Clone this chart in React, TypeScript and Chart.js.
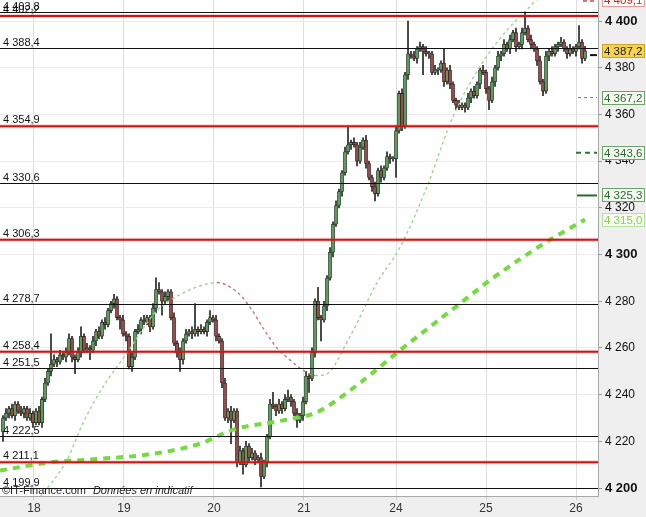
import { useEffect, useRef } from "react";
import { Chart, registerables } from "chart.js";

Chart.register(...registerables);

const FONT = "Arial, 'Liberation Sans', sans-serif";

// 15 min candles, the open of each bar is the close of the one before
const firstOpen = 4224;
const closes = [
  4230, 4232, 4234, 4231, 4236, 4233, 4232, 4234, 4230, 4232,
  4228, 4233, 4228, 4238, 4245, 4250, 4253, 4255, 4254, 4257,
  4256, 4258, 4264, 4256, 4255, 4258, 4265, 4259, 4260, 4259,
  4263, 4267, 4265, 4271, 4270, 4276, 4279, 4281, 4273, 4272,
  4266, 4265, 4252, 4256, 4267, 4268, 4272, 4271, 4273, 4269,
  4277, 4285, 4284, 4280, 4282, 4284, 4273, 4262, 4258, 4255,
  4263, 4266, 4267, 4266, 4268, 4267, 4268, 4267, 4271, 4273,
  4272, 4265, 4263, 4245, 4230, 4233, 4229, 4233, 4211, 4216,
  4210, 4218, 4213, 4215, 4212, 4213, 4205, 4211, 4222, 4236,
  4235, 4233, 4236, 4234, 4238, 4239, 4237, 4232, 4229, 4231,
  4237, 4248, 4247, 4258, 4280, 4273, 4272, 4278, 4290, 4301,
  4313, 4321, 4327, 4335, 4344, 4347, 4348, 4347, 4340, 4346,
  4349, 4339, 4333, 4329, 4326, 4336, 4333, 4337, 4342, 4341,
  4341, 4353, 4369, 4355, 4377, 4386, 4385, 4384, 4388, 4389,
  4387, 4386, 4386, 4378, 4379, 4379, 4382, 4374, 4379, 4373,
  4366, 4364, 4363, 4364, 4363, 4367, 4370, 4368, 4373, 4379,
  4378, 4371, 4366, 4374, 4380, 4385, 4386, 4390, 4388, 4392,
  4395, 4389, 4390, 4395, 4397, 4392, 4390, 4388, 4383, 4374,
  4370, 4385, 4387, 4386, 4389, 4390, 4391, 4388, 4386, 4388,
  4387, 4389, 4391, 4384, 4387.2,
];
const wickUp = [
  1, 2, 1, 2, 1, 1, 2, 1, 1, 2,
  1, 1, 2, 1, 2, 1, 13, 2, 1, 2,
  1, 2, 2, 1, 1, 2, 4, 1, 2, 1,
  2, 1, 2, 1, 2, 1, 1, 2, 1, 1,
  2, 1, 1, 2, 1, 2, 1, 2, 1, 1,
  2, 5, 3, 1, 2, 1, 1, 2, 1, 2,
  1, 2, 1, 2, 11, 1, 2, 1, 1, 3,
  1, 2, 1, 1, 2, 1, 2, 1, 1, 2,
  1, 2, 1, 2, 1, 1, 2, 1, 1, 2,
  5, 1, 2, 1, 2, 3, 1, 1, 2, 1,
  2, 2, 1, 2, 1, 6, 1, 2, 1, 2,
  1, 2, 1, 1, 2, 8, 1, 2, 1, 2,
  1, 2, 1, 1, 2, 1, 2, 1, 2, 1,
  1, 2, 1, 2, 1, 14, 1, 2, 1, 2,
  1, 2, 1, 1, 2, 1, 1, 6, 1, 2,
  1, 1, 2, 1, 1, 2, 1, 2, 1, 1,
  2, 1, 1, 2, 1, 2, 1, 2, 1, 2,
  1, 2, 1, 2, 7, 1, 2, 1, 1, 2,
  1, 2, 1, 2, 1, 1, 2, 1, 1, 2,
  1, 1, 7, 1, 2,
];
const wickDown = [
  4, 1, 2, 1, 2, 1, 1, 2, 1, 1,
  2, 1, 1, 2, 1, 1, 2, 1, 2, 1,
  1, 2, 1, 2, 6, 1, 2, 1, 1, 4,
  1, 2, 1, 1, 2, 1, 1, 2, 1, 4,
  1, 2, 1, 2, 1, 1, 2, 1, 1, 2,
  1, 2, 1, 6, 1, 2, 1, 1, 2, 5,
  2, 1, 1, 2, 1, 2, 1, 1, 2, 1,
  1, 2, 1, 2, 1, 2, 10, 1, 2, 1,
  4, 1, 2, 1, 2, 1, 4.5, 1, 2, 1,
  1, 2, 1, 2, 1, 1, 2, 1, 3, 1,
  2, 1, 6, 1, 2, 1, 9, 1, 2, 1,
  2, 1, 1, 2, 1, 1, 2, 1, 2, 1,
  1, 2, 1, 2, 3, 1, 2, 1, 1, 2,
  1, 8, 1, 2, 1, 2, 1, 1, 2, 1,
  10, 1, 2, 1, 1, 2, 1, 2, 1, 2,
  1, 2, 1, 1, 2, 1, 2, 1, 1, 2,
  1, 2, 4, 1, 2, 1, 2, 1, 1, 2,
  1, 2, 1, 2, 1, 1, 2, 1, 2, 1,
  2, 1, 2, 1, 1, 2, 1, 1, 2, 1,
  1, 2, 1, 2, 1,
];

const dayTicks = [10.3, 40.3, 70.3, 100.3, 131, 161, 191];
const dayLabels = ["18", "19", "20", "21", "24", "25", "26"];

const yTicks = [4200, 4220, 4240, 4260, 4280, 4300, 4320, 4340, 4360, 4380, 4400];

// short moving average
const fastMaIdx = [
  8.7, 12.3, 21.3, 26.7, 31.3, 34.7, 41.3, 48, 51.3, 60, 66.7, 71.3, 78,
  82.3, 86.7, 91.3, 95.7, 100, 104, 107.3, 115.7, 124.7, 132.3, 141.3, 150,
  161.3, 174.7, 180.7, 194,
];
const fastMaVal = [
  4190, 4196, 4212, 4228, 4239, 4246, 4257.8, 4270.7, 4276, 4283.5, 4287,
  4288, 4284, 4277.5, 4268.5, 4260, 4254.8, 4250.5, 4248.2, 4248.5, 4265,
  4288, 4303, 4329, 4359, 4385, 4405, 4411, 4409.1,
];
// long moving average
const slowMaIdx = [
  -1, 15.7, 32.3, 49, 65.7, 76.7, 93.3, 104.7, 111.3, 122.3, 132.3, 141.3,
  152.3, 162.3, 172.3, 182.3, 194,
];
const slowMaVal = [
  4207.5, 4211, 4212.5, 4214.5, 4219, 4225, 4229, 4232.5, 4237.7, 4248.4,
  4259, 4268, 4279, 4289, 4298, 4306.3, 4315,
];

const levels = [
  4403.8, 4402.2, 4388.4, 4354.9, 4330.6, 4306.3, 4278.7, 4258.4, 4251.5,
  4222.5, 4211.1, 4199.9,
];
const levelMajor = [
  false, true, false, true, false, true, false, true, false, false, true, false,
];

const tags = [4409.1, 4387.2, 4367.2, 4343.6, 4325.3, 4315.0];

const tagStyles = [
  { fill: "#ffffff", stroke: "#e69a9a", text: "#d42020" },
  { fill: "#f7d34c", stroke: "#c9a52a", text: "#222222" },
  { fill: "#f6f9f2", stroke: "#6aa66a", text: "#2e6b2e" },
  { fill: "#f6f9f2", stroke: "#6aa66a", text: "#2e6b2e" },
  { fill: "#f6f9f2", stroke: "#6aa66a", text: "#2e6b2e" },
  { fill: "#f8fcf4", stroke: "#b2e49a", text: "#86d050" },
];

const fmt = (v: number, d: number) => {
  const [int, dec] = v.toFixed(d).split(".");
  const s = int.replace(/\B(?=(\d{3})+(?!\d))/g, " ");
  return dec ? s + "," + dec : s;
};

const backdrop = {
  id: "backdrop",
  beforeDraw(chart: any) {
    const { ctx, chartArea: a, width, height } = chart;
    ctx.save();
    ctx.fillStyle = "#efefef";
    ctx.fillRect(0, 0, width, height);
    ctx.fillStyle = "#ffffff";
    ctx.fillRect(a.left, a.top, a.right - a.left, a.bottom - a.top);
    ctx.restore();
  },
};

const overlay = {
  id: "overlay",
  afterDatasetsDraw(chart: any) {
    const { ctx, chartArea: a, scales } = chart;
    const y = scales.y;
    ctx.save();
    ctx.beginPath();
    ctx.rect(a.left, a.top, a.right - a.left, a.bottom - a.top);
    ctx.clip();

    // support / resistance lines
    levels.forEach((v, i) => {
      const py = y.getPixelForValue(v);
      if (levelMajor[i]) {
        ctx.strokeStyle = "rgba(220,70,70,0.22)";
        ctx.lineWidth = 4;
        ctx.beginPath();
        ctx.moveTo(a.left, py);
        ctx.lineTo(a.right, py);
        ctx.stroke();
        ctx.strokeStyle = "#d01414";
        ctx.lineWidth = 2;
      } else {
        ctx.strokeStyle = "#111111";
        ctx.lineWidth = 1;
      }
      const yy = levelMajor[i] ? py : Math.round(py) + 0.5;
      ctx.beginPath();
      ctx.moveTo(a.left, yy);
      ctx.lineTo(a.right, yy);
      ctx.stroke();
    });
    ctx.font = "11px " + FONT;
    ctx.fillStyle = "#111111";
    ctx.textAlign = "left";
    ctx.textBaseline = "alphabetic";
    levels.forEach((v, i) => {
      const py = y.getPixelForValue(v);
      ctx.fillText(fmt(v, 1), a.left + 3, py - (levelMajor[i] ? 3 : 2));
    });

    // last value markers at the right edge
    const mark = (v: number, x0: number, color: string, w: number, dash: number[]) => {
      const py = Math.max(y.getPixelForValue(v), 1);
      ctx.strokeStyle = color;
      ctx.lineWidth = w;
      ctx.setLineDash(dash);
      ctx.beginPath();
      ctx.moveTo(a.right - x0, py);
      ctx.lineTo(a.right - 1, py);
      ctx.stroke();
    };
    mark(tags[0], 15, "#d04848", 1.5, [4, 3]);
    mark(tags[1] - 1.8, 8, "#111111", 2, []);
    mark(tags[2], 20, "#4a9a4a", 1, [3, 3]);
    mark(tags[3], 22, "#2d7a2d", 2, [5, 4]);
    mark(tags[4], 21, "#2d6a2d", 2, []);
    ctx.setLineDash([]);

    // footer
    ctx.font = "11px " + FONT;
    ctx.fillStyle = "#222222";
    const base = a.bottom - 2;
    ctx.fillText("\u00a9IT-Finance.com", a.left + 2, base);
    const w = ctx.measureText("\u00a9IT-Finance.com").width;
    ctx.font = "italic 11px " + FONT;
    ctx.fillText("Donn\u00e9es en indicatif", a.left + 2 + w + 7, base);
    ctx.restore();
  },
  afterDraw(chart: any) {
    const { ctx, chartArea: a, scales } = chart;
    const y = scales.y;
    ctx.save();
    ctx.strokeStyle = "#a8a8a8";
    ctx.lineWidth = 1;
    ctx.beginPath();
    ctx.moveTo(a.right + 0.5, a.top);
    ctx.lineTo(a.right + 0.5, a.bottom + 0.5);
    ctx.lineTo(a.left, a.bottom + 0.5);
    ctx.stroke();

    ctx.font = "11.5px " + FONT;
    ctx.textBaseline = "middle";
    ctx.textAlign = "left";
    tags.forEach((v, i) => {
      const s = tagStyles[i];
      const py = Math.round(y.getPixelForValue(v));
      ctx.fillStyle = s.fill;
      ctx.fillRect(a.right + 4, py - 7, 43, 14);
      ctx.strokeStyle = s.stroke;
      ctx.strokeRect(a.right + 4.5, py - 6.5, 42, 13);
      ctx.fillStyle = s.text;
      ctx.fillText(fmt(v, 1), a.right + 6, py + 1);
    });
    ctx.restore();
  },
};

export default function App() {
  const chartRef = useRef<HTMLCanvasElement | null>(null);

  useEffect(() => {
    if (!chartRef.current) return;
    const opens = closes.map((c, i) => (i === 0 ? firstOpen : closes[i - 1]));
    const bodies = closes.map((c, i) => ({ x: i, y: [opens[i], c] }));
    const wicks = closes.map((c, i) => ({
      x: i,
      y: [Math.min(opens[i], c) - wickDown[i], Math.max(opens[i], c) + wickUp[i]],
    }));
    const rising = closes.map((c, i) => c >= opens[i]);

    const chartInstance = new Chart(chartRef.current, {
      type: "bar",
      data: {
        datasets: [
          {
            type: "line",
            data: slowMaIdx.map((x, i) => ({ x, y: slowMaVal[i] })),
            borderColor: "#72dc3e",
            borderWidth: 4,
            borderDash: [7, 6],
            pointRadius: 0,
            cubicInterpolationMode: "monotone",
            order: 0,
          } as any,
          {
            type: "line",
            data: fastMaIdx.map((x, i) => ({ x, y: fastMaVal[i] })),
            borderColor: "#9ad98a",
            borderWidth: 1.4,
            borderDash: [3, 3],
            pointRadius: 0,
            cubicInterpolationMode: "monotone",
            segment: {
              borderColor: (ctx: any) =>
                ctx.p1.parsed.y < ctx.p0.parsed.y ? "#c27a7a" : "#9ad98a",
            },
            order: 0,
          } as any,
          {
            data: bodies as any,
            backgroundColor: rising.map((r) => (r ? "#5c9c5c" : "#984c4c")),
            borderColor: rising.map((r) => (r ? "#1c331c" : "#331a1a")),
            borderWidth: 0.8,
            borderSkipped: false,
            barThickness: 3.1,
            minBarLength: 1,
            grouped: false,
            order: 1,
          },
          {
            data: wicks as any,
            backgroundColor: "#262626",
            borderWidth: 0,
            barThickness: 1,
            grouped: false,
            order: 2,
          },
        ],
      },
      options: {
        animation: false,
        responsive: true,
        maintainAspectRatio: false,
        layout: { padding: 0 },
        plugins: {
          legend: { display: false },
          tooltip: { enabled: false },
        },
        scales: {
          x: {
            type: "linear",
            min: -1,
            max: 198.33,
            offset: false,
            afterBuildTicks: (scale: any) => {
              scale.ticks = dayTicks.map((value) => ({ value }));
            },
            afterFit: (scale: any) => {
              scale.height = 21;
              scale.paddingLeft = 0;
              scale.paddingRight = 0;
            },
            grid: {
              color: "#dedede",
              offset: false,
              tickLength: 4,
              tickColor: "#cccccc",
            },
            border: { display: false },
            ticks: {
              padding: 1,
              color: "#333333",
              font: { size: 12, family: FONT },
              maxRotation: 0,
              callback: (value: any) => dayLabels[dayTicks.indexOf(Number(value))] ?? "",
            },
          },
          y: {
            position: "right",
            min: 4196.6,
            max: 4409,
            afterBuildTicks: (scale: any) => {
              scale.ticks = yTicks.map((value) => ({ value }));
            },
            afterFit: (scale: any) => {
              scale.width = 48;
              scale.paddingTop = 0;
              scale.paddingBottom = 0;
            },
            grid: {
              color: "#ebebeb",
              tickLength: 4,
              tickColor: "#999999",
            },
            border: { display: false },
            ticks: {
              padding: 3,
              color: "#111111",
              font: (ctx: any) =>
                ctx.tick && ctx.tick.value % 100 === 0
                  ? { size: 13, weight: "bold", family: FONT }
                  : { size: 12, weight: "normal", family: FONT },
              callback: (value: any) => fmt(Number(value), 0),
            },
          },
        },
      },
      plugins: [backdrop, overlay],
    });

    return () => {
      chartInstance.destroy();
    };
  }, []);

  return (
    <div style={{ position: "fixed", left: 0, top: 0, width: 646, height: 517 }}>
      <canvas ref={chartRef} />
    </div>
  );
}
